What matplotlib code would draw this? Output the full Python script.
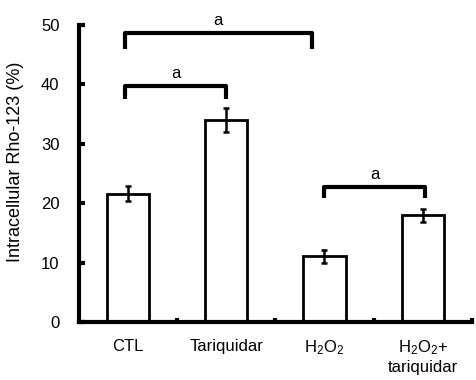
import matplotlib
matplotlib.use("Agg")
import matplotlib.pyplot as plt

plt.rcParams['font.family'] = ['Liberation Sans', 'DejaVu Sans']
plt.rcParams['mathtext.fontset'] = 'custom'
plt.rcParams['mathtext.rm'] = 'Liberation Sans'
plt.rcParams['mathtext.it'] = 'Liberation Sans'

categories = ["CTL", "Tariquidar", "H$_2$O$_2$", "H$_2$O$_2$+\ntariquidar"]
values = [21.6, 34.0, 11.1, 18.0]
errors = [1.3, 2.0, 1.1, 1.1]
y_ticks = [0, 10, 20, 30, 40, 50]

# significance brackets: (x_left, x_right, y_top, y_drop, label)
brackets = [
    (-0.03, 1.87, 48.7, 46.0, "a"),
    (-0.03, 1.0, 39.7, 37.6, "a"),
    (2.0, 3.02, 22.8, 20.9, "a"),
]

fig = plt.figure(figsize=(4.76, 3.80), dpi=100)
ax = fig.add_axes([0.166, 0.1526, 0.825, 0.7816])

x = list(range(len(categories)))
ax.bar(x, values, width=0.43, color="white", edgecolor="black", linewidth=2, zorder=2)
ax.errorbar(x, values, yerr=errors, fmt="none", ecolor="black", elinewidth=1.8,
            capsize=2.5, capthick=1.8, zorder=3)

for xl, xr, yt, yd, lab in brackets:
    ax.plot([xl, xl, xr, xr], [yd, yt, yt, yd], color="black", lw=3,
            solid_capstyle="butt", clip_on=False, zorder=4)
    ax.text((xl + xr) / 2, yt + 0.8, lab, ha="center", va="bottom", fontsize=12,
            clip_on=False)

ax.set_xlim(-0.5, 3.5)
ax.set_ylim(0, 50)
ax.set_yticks(y_ticks)
ax.tick_params(axis="y", direction="in", length=4, width=3, labelsize=12, pad=14)

ax.set_xticks([0.5, 1.5, 2.5, 3.5])
ax.set_xticklabels([])
ax.tick_params(axis="x", which="major", direction="in", length=3, width=3)
ax.set_xticks(x, minor=True)
ax.set_xticklabels(categories, minor=True)
ax.tick_params(axis="x", which="minor", length=0, labelsize=12, pad=12)

for s in ["top", "right"]:
    ax.spines[s].set_visible(False)
for s in ["left", "bottom"]:
    ax.spines[s].set_linewidth(3)

ax.set_ylabel("Intracellular Rho-123 (%)", fontsize=13)
ax.yaxis.set_label_coords(-0.14, 0.54)

fig.savefig("out.png", dpi=100)
